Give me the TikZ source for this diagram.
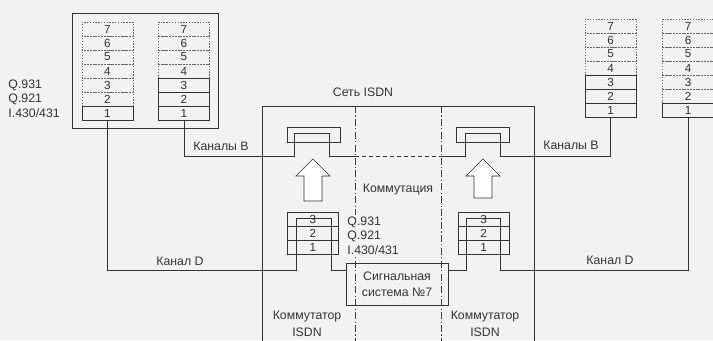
\documentclass[tikz,border=0pt]{standalone}
\usepackage{fontspec}
\setmainfont{Liberation Sans}
\usetikzlibrary{calc}

\begin{document}
\begin{tikzpicture}[x=0.03cm,y=-0.03cm,
  line width=0.5pt, draw=black!80, text=black!80,
  font=\fontsize{10.5}{14}\selectfont,
  layer/.style={minimum width=1.53cm,minimum height=0.42cm,inner sep=0pt,font=\fontsize{10}{12}\selectfont},
  slayer/.style={layer,draw=black!80},
  dlayer/.style={layer,draw=black!60,dash pattern=on 1.2pt off 1.2pt},
  zone/.style={draw=black!75,dash pattern=on 6pt off 2pt on 1pt off 2pt},
  proto/.style={anchor=west,fill=black!5,inner sep=1pt},
  hollow/.style={draw=black!80,fill=white}]
\useasboundingbox (0,0) rectangle (713,340);
\fill[black!5] (0,0) rectangle (713,340);

% terminal, left
\draw (72,13) rectangle (218,128);
\foreach \n in {2,...,7} \node[dlayer] (ta\n) at (107.5,{127-14*\n}) {\n};
\node[slayer] (ta1) at (107.5,113) {1};
\foreach \n in {4,...,7} \node[dlayer] (tb\n) at (184,{127-14*\n}) {\n};
\foreach \n in {1,...,3} \node[slayer] (tb\n) at (184,{127-14*\n}) {\n};
\node[proto] (lq931) at (7,85) {Q.931};
\node[proto] (lq921) at (7,99) {Q.921};
\node[proto] (li430) at (7,113) {I.430/431};

% terminal, right
\foreach \n in {4,...,7} \node[dlayer] (tc\n) at (610.5,{124-14*\n}) {\n};
\foreach \n in {1,...,3} \node[slayer] (tc\n) at (610.5,{124-14*\n}) {\n};
\foreach \n in {2,...,7} \node[dlayer] (td\n) at (688,{124-14*\n}) {\n};
\node[slayer] (td1) at (688,110) {1};

% network
\node (isdn) at (363,92) {Сеть ISDN};
\draw (262,345) |- (534,106) -- (534,345);
\draw[zone] (355,106) -- (355,345);
\draw[zone] (441,106) -- (441,345);
\node (komm) at (398,190) {Коммутация};

% switches for B channels
\node[draw,minimum width=1.59cm,minimum height=0.45cm] (swl) at (313.5,134.5) {};
\node[draw,minimum width=1.59cm,minimum height=0.45cm] (swr) at (482.5,134.5) {};
\draw (tb1.south) |- (294,156) |- (329,133) |- (355,156);
\draw[dashed] (355,156) -- (441,156);
\draw (441,156) -| (465,133) -| (500,156) -| (tc1.south);
\node (lkb) at (221,146) {Каналы B};
\node (rkb) at (571,145) {Каналы B};

% up arrows
\draw[hollow] (313,159) -- (330,176) -- (322,176) -- (322,201) -- (304,201) -- (304,176) -- (296,176) -- cycle;
\draw[hollow] (483,159) -- (500,176) -- (492,176) -- (492,198) -- (474,198) -- (474,176) -- (466,176) -- cycle;

% D channel stacks
\foreach \n in {1,...,3} \node[slayer] (na\n) at (313,{261-14*\n}) {\n};
\foreach \n in {1,...,3} \node[slayer] (nb\n) at (483.5,{261-14*\n}) {\n};
\node[proto] (nq931) at (346,222) {Q.931};
\node[proto] (nq921) at (346,236) {Q.921};
\node[proto] (ni430) at (346,250) {I.430/431};

\node[draw,minimum width=3.06cm,minimum height=1.26cm,align=center] (ss7) at (397,284) {Сигнальная\\система №7};
\draw (ta1.south) |- (296,270) |- (331,218) |- (346,270);
\draw (448,270) -| (466,218) -| (500,270) -| (td1.south);
\node (lkd) at (180,261) {Канал D};
\node (rkd) at (610,260) {Канал D};

\node[align=center] (kl) at (307,324) {Коммутатор\\ISDN};
\node[align=center] (kr) at (485,324) {Коммутатор\\ISDN};
\end{tikzpicture}
\end{document}
